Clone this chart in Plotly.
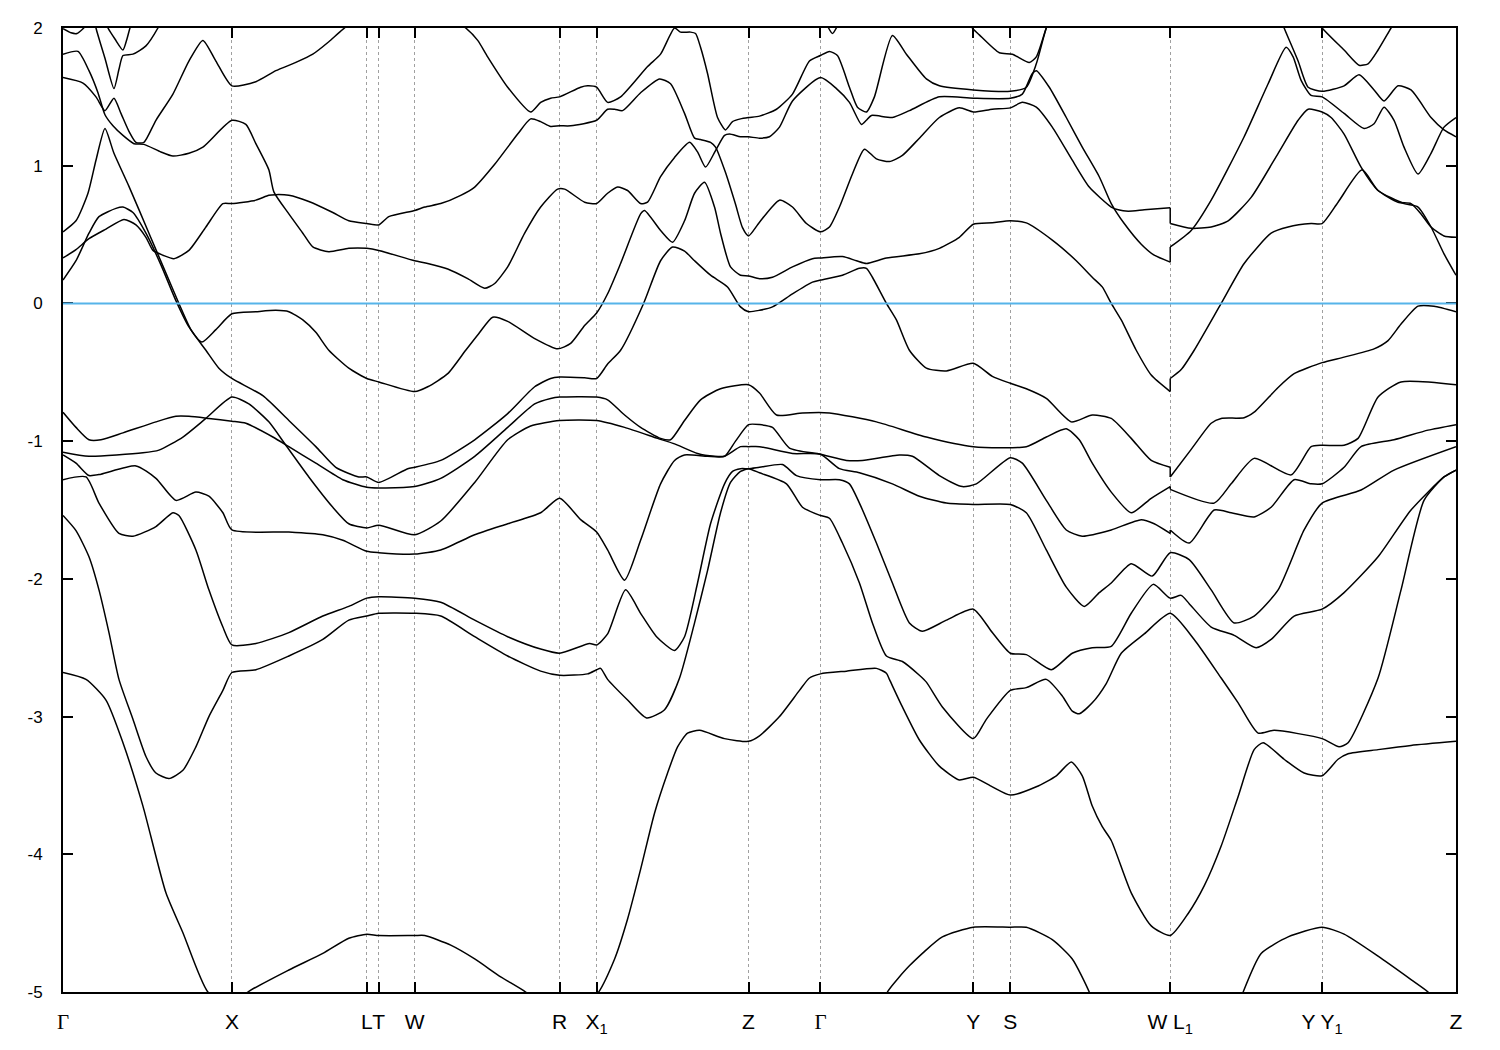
import plotly.graph_objects as go

# ---------------- k-path (arbitrary path units) ----------------
K_TICKS = [0, 169, 304, 316, 352, 497, 534, 686, 758, 911, 948, 1108, 1260, 1394]
GAMMA = "<span style='font-family:Liberation Serif'>Γ</span>"
K_LABELS = [GAMMA, "X", "L", "T", "W", "R", "X<sub>1</sub>", "Z", GAMMA, "Y", "S",
            "W L<sub>1</sub>", "Y Y<sub>1</sub>", "Z"]
E_TICKS = [-5, -4, -3, -2, -1, 0, 1, 2]

# ---------------- bands: (k, E) ----------------
BAND_01 = [(0,-2.68),(23,-2.73),(43,-2.88),(60,-3.19),(80,-3.65),(103,-4.28),(120,-4.57),(145,-5.0),(169,-5.1),(185,-5.0),
           (226,-4.84),(260,-4.72),(286,-4.61),(304,-4.58),(316,-4.59),(352,-4.59),(362,-4.59),(388,-4.66),(412,-4.76),(438,-4.89),
           (463,-5.0),(497,-5.2),(534,-5.02),(552,-4.76),(565,-4.47),(578,-4.11),(592,-3.70),(605,-3.41),(615,-3.22),(625,-3.12),
           (637,-3.10),(662,-3.16),(686,-3.18),(697,-3.14),(717,-3.0),(737,-2.81),(747,-2.72),(758,-2.69),(784,-2.67),(814,-2.65),
           (824,-2.685),(827,-2.73),(840,-2.93),(857,-3.17),(877,-3.36),(897,-3.46),(911,-3.44),(930,-3.51),(948,-3.57),(974,-3.51),
           (994,-3.43),(1009,-3.33),(1020,-3.43),(1030,-3.65),(1040,-3.80),(1049,-3.90),(1069,-4.28),(1089,-4.52),(1108,-4.59),(1126,-4.43),
           (1142,-4.23),(1159,-3.94),(1176,-3.58),(1192,-3.24),(1201,-3.19),(1222,-3.31),(1242,-3.41),(1260,-3.43),(1276,-3.31),(1286,-3.27),
           (1316,-3.24),(1349,-3.21),(1394,-3.18)]

BAND_02 = [(0,-1.54),(13,-1.65),(26,-1.84),(36,-2.08),(46,-2.39),(56,-2.73),(70,-3.02),(83,-3.29),(93,-3.41),(106,-3.45),
           (120,-3.39),(133,-3.22),(146,-3.0),(160,-2.81),(169,-2.68),(193,-2.66),(226,-2.56),(260,-2.44),(286,-2.30),(304,-2.27),
           (316,-2.25),(352,-2.25),(378,-2.27),(412,-2.42),(445,-2.56),(478,-2.67),(497,-2.70),(525,-2.69),(534,-2.66),(538,-2.65),
           (545,-2.73),(565,-2.88),(584,-3.01),(602,-2.95),(617,-2.72),(632,-2.32),(645,-1.94),(658,-1.52),(668,-1.30),(678,-1.22),
           (686,-1.20),(697,-1.23),(724,-1.31),(740,-1.48),(758,-1.54),(767,-1.56),(780,-1.74),(797,-2.03),(810,-2.32),(824,-2.56),
           (840,-2.60),(857,-2.70),(864,-2.75),(880,-2.93),(911,-3.16),(924,-3.02),(948,-2.81),(964,-2.79),(984,-2.73),(1000,-2.85),
           (1010,-2.96),(1017,-2.98),(1030,-2.90),(1044,-2.76),(1059,-2.54),(1082,-2.40),(1108,-2.25),(1132,-2.44),(1159,-2.72),(1176,-2.90),
           (1196,-3.12),(1212,-3.10),(1260,-3.16),(1277,-3.22),(1286,-3.19),(1316,-2.72),(1339,-2.08),(1362,-1.43),(1382,-1.26),(1394,-1.21)]

BAND_03 = [(0,-1.28),(23,-1.26),(36,-1.45),(56,-1.67),(70,-1.69),(93,-1.62),(110,-1.52),(116,-1.54),(133,-1.79),(146,-2.08),
           (160,-2.35),(169,-2.48),(193,-2.47),(226,-2.39),(260,-2.27),(286,-2.20),(304,-2.14),(316,-2.13),(352,-2.14),(378,-2.17),
           (412,-2.30),(445,-2.42),(478,-2.51),(497,-2.54),(527,-2.47),(534,-2.48),(545,-2.40),(563,-2.08),(578,-2.25),(594,-2.42),
           (612,-2.52),(622,-2.42),(635,-2.03),(648,-1.60),(662,-1.31),(670,-1.22),(678,-1.20),(686,-1.20),(697,-1.19),(720,-1.17),
           (734,-1.25),(758,-1.28),(777,-1.28),(787,-1.31),(797,-1.45),(814,-1.74),(830,-2.03),(847,-2.32),(860,-2.38),(884,-2.30),
           (911,-2.22),(930,-2.39),(948,-2.54),(964,-2.55),(989,-2.66),(1010,-2.54),(1030,-2.50),(1049,-2.49),(1069,-2.25),(1091,-2.04),
           (1108,-2.14),(1119,-2.12),(1127,-2.18),(1149,-2.35),(1172,-2.41),(1194,-2.50),(1209,-2.44),(1232,-2.27),(1260,-2.22),(1282,-2.10),
           (1316,-1.84),(1349,-1.50),(1382,-1.26),(1394,-1.21)]

BAND_04 = [(0,-1.10),(13,-1.16),(26,-1.25),(38,-1.24),(73,-1.18),(93,-1.27),(113,-1.43),(133,-1.37),(146,-1.40),(160,-1.52),
           (169,-1.645),(226,-1.66),(260,-1.68),(280,-1.72),(304,-1.80),(316,-1.81),(352,-1.82),(378,-1.79),(412,-1.68),(445,-1.60),
           (478,-1.52),(497,-1.415),(518,-1.57),(534,-1.66),(545,-1.79),(562,-2.01),(578,-1.72),(598,-1.31),(612,-1.14),(622,-1.10),
           (645,-1.11),(662,-1.11),(673,-1.0),(686,-0.88),(697,-0.88),(710,-0.90),(727,-1.05),(758,-1.095),(784,-1.14),(800,-1.14),
           (837,-1.10),(850,-1.11),(877,-1.25),(900,-1.33),(914,-1.31),(948,-1.12),(960,-1.16),(984,-1.43),(1004,-1.645),(1020,-1.69),
           (1049,-1.645),(1079,-1.57),(1092,-1.60),(1108,-1.67),(1108,-1.645),(1127,-1.74),(1152,-1.50),(1169,-1.52),(1192,-1.55),(1209,-1.48),
           (1232,-1.28),(1249,-1.31),(1260,-1.31),(1282,-1.19),(1299,-1.04),(1332,-0.99),(1366,-0.92),(1394,-0.88)]

BAND_05 = [(0,-1.08),(26,-1.11),(80,-1.085),(96,-1.065),(120,-0.97),(143,-0.835),(169,-0.68),(186,-0.73),(206,-0.86),(223,-1.03),
           (246,-1.26),(270,-1.48),(286,-1.60),(304,-1.63),(316,-1.61),(352,-1.68),(378,-1.58),(412,-1.30),(445,-0.99),(468,-0.89),
           (497,-0.85),(534,-0.85),(562,-0.90),(595,-0.98),(612,-1.02),(635,-1.09),(652,-1.11),(662,-1.11),(678,-1.04),(686,-1.04),
           (697,-1.04),(730,-1.09),(758,-1.095),(777,-1.20),(797,-1.23),(830,-1.31),(857,-1.40),(884,-1.45),(911,-1.46),(948,-1.46),
           (964,-1.52),(984,-1.79),(1004,-2.06),(1022,-2.20),(1037,-2.10),(1049,-2.03),(1069,-1.89),(1090,-1.98),(1108,-1.81),(1127,-1.86),
           (1149,-2.08),(1172,-2.32),(1192,-2.27),(1216,-2.08),(1242,-1.645),(1260,-1.45),(1299,-1.355),(1332,-1.21),(1394,-1.04)]

BAND_06 = [(0,-0.79),(13,-0.90),(26,-0.99),(38,-0.99),(60,-0.94),(93,-0.86),(113,-0.82),(126,-0.82),(146,-0.835),(169,-0.855),
           (183,-0.87),(210,-0.97),(226,-1.04),(253,-1.16),(280,-1.28),(304,-1.335),(316,-1.34),(352,-1.33),(378,-1.27),(412,-1.11),
           (445,-0.90),(472,-0.73),(488,-0.69),(497,-0.68),(534,-0.68),(545,-0.70),(562,-0.81),(578,-0.90),(598,-0.98),(608,-0.99),
           (622,-0.85),(638,-0.70),(658,-0.62),(686,-0.59),(697,-0.65),(714,-0.81),(740,-0.795),(767,-0.795),(814,-0.86),(864,-0.97),
           (911,-1.04),(964,-1.04),(984,-0.97),(1004,-0.91),(1017,-0.99),(1030,-1.16),(1049,-1.37),(1069,-1.52),(1089,-1.415),(1108,-1.33),
           (1108,-1.35),(1152,-1.45),(1169,-1.31),(1192,-1.125),(1229,-1.245),(1249,-1.04),(1260,-1.03),(1282,-1.03),(1296,-0.98),(1316,-0.68),
           (1339,-0.57),(1394,-0.59)]

BAND_07 = [(0,0.52),(13,0.60),(25,0.80),(33,1.04),(42,1.27),(51,1.09),(66,0.85),(86,0.51),(103,0.22),(116,0.0),
           (128,-0.19),(143,-0.34),(156,-0.47),(169,-0.545),(200,-0.67),(226,-0.85),(253,-1.04),(273,-1.19),(296,-1.26),(304,-1.26),
           (316,-1.30),(345,-1.20),(352,-1.19),(378,-1.14),(412,-0.99),(445,-0.80),(472,-0.605),(488,-0.545),(497,-0.535),(522,-0.54),
           (534,-0.545),(545,-0.44),(558,-0.34),(581,0.0),(598,0.31),(610,0.41),(622,0.38),(632,0.31),(648,0.205),(665,0.12),
           (678,-0.025),(686,-0.06),(697,-0.05),(710,-0.025),(730,0.07),(750,0.155),(758,0.17),(780,0.205),(797,0.255),(804,0.255),
           (810,0.19),(824,0.0),(834,-0.12),(847,-0.34),(864,-0.47),(884,-0.49),(911,-0.435),(930,-0.53),(948,-0.58),(964,-0.62),
           (984,-0.69),(1009,-0.86),(1030,-0.81),(1049,-0.835),(1069,-0.98),(1089,-1.14),(1108,-1.19),(1108,-1.26),(1129,-1.06),(1149,-0.87),
           (1159,-0.835),(1182,-0.83),(1192,-0.79),(1216,-0.61),(1232,-0.51),(1260,-0.43),(1282,-0.39),(1312,-0.33),(1326,-0.27),(1339,-0.15),
           (1356,-0.02),(1372,-0.02),(1394,-0.06)]

BAND_08 = [(0,0.17),(13,0.31),(26,0.51),(36,0.63),(53,0.69),(60,0.70),(70,0.66),(83,0.51),(98,0.28),(113,0.02),
           (126,-0.17),(139,-0.28),(153,-0.19),(169,-0.075),(193,-0.06),(213,-0.05),(226,-0.06),(240,-0.12),(253,-0.21),(266,-0.34),
           (286,-0.47),(304,-0.545),(316,-0.57),(352,-0.64),(365,-0.605),(385,-0.51),(403,-0.34),(416,-0.22),(430,-0.10),(445,-0.13),
           (472,-0.255),(495,-0.33),(508,-0.29),(522,-0.16),(534,-0.07),(545,0.07),(558,0.29),(578,0.65),(582,0.675),(598,0.53),
           (610,0.445),(622,0.60),(632,0.80),(642,0.88),(652,0.70),(658,0.51),(668,0.265),(678,0.205),(686,0.20),(697,0.18),
           (710,0.19),(730,0.265),(750,0.325),(758,0.33),(780,0.34),(794,0.31),(804,0.29),(824,0.33),(857,0.36),(877,0.40),
           (897,0.48),(911,0.575),(930,0.585),(948,0.60),(964,0.585),(990,0.46),(1014,0.31),(1030,0.19),(1040,0.12),(1049,0.0),
           (1059,-0.12),(1074,-0.34),(1089,-0.52),(1108,-0.64),(1108,-0.545),(1119,-0.48),(1132,-0.34),(1159,0.0),(1182,0.29),(1209,0.51),
           (1226,0.555),(1249,0.58),(1260,0.58),(1276,0.735),(1300,0.97),(1316,0.82),(1342,0.725),(1356,0.70),(1369,0.555),(1382,0.36),
           (1394,0.205)]

BAND_09 = [(0,0.33),(13,0.39),(26,0.47),(43,0.54),(61,0.61),(73,0.57),(83,0.48),(90,0.385),(100,0.35),(111,0.325),
           (126,0.385),(143,0.555),(160,0.725),(169,0.725),(193,0.75),(206,0.785),(213,0.79),(226,0.785),(246,0.74),(270,0.66),
           (286,0.60),(304,0.58),(316,0.57),(326,0.63),(352,0.675),(362,0.70),(378,0.725),(398,0.785),(412,0.845),(432,1.01),
           (455,1.23),(468,1.34),(478,1.32),(488,1.285),(497,1.29),(508,1.29),(534,1.33),(545,1.41),(552,1.41),(560,1.40),
           (578,1.53),(597,1.63),(608,1.595),(622,1.38),(632,1.20),(638,1.19),(648,1.17),(653,1.135),(663,0.95),(673,0.72),
           (680,0.55),(686,0.49),(697,0.59),(717,0.75),(730,0.70),(744,0.58),(758,0.52),(767,0.555),(777,0.70),(790,0.94),
           (802,1.12),(814,1.05),(827,1.03),(840,1.075),(857,1.20),(877,1.35),(897,1.42),(911,1.39),(930,1.41),(948,1.42),
           (960,1.46),(974,1.425),(990,1.28),(1010,1.04),(1027,0.845),(1049,0.70),(1056,0.68),(1066,0.67),(1082,0.68),(1108,0.695),
           (1108,0.58),(1129,0.545),(1149,0.555),(1166,0.60),(1189,0.77),(1216,1.09),(1236,1.33),(1246,1.41),(1260,1.39),(1269,1.35),
           (1282,1.23),(1299,0.99),(1316,0.82),(1336,0.735),(1349,0.725),(1359,0.65),(1369,0.555),(1382,0.49),(1394,0.48)]

BAND_10 = [(0,1.81),(15,1.83),(26,1.69),(35,1.53),(42,1.37),(50,1.29),(60,1.22),(71,1.16),(81,1.155),(98,1.10),
           (110,1.07),(126,1.09),(140,1.135),(169,1.33),(183,1.30),(193,1.16),(206,0.97),(211,0.81),(226,0.65),(240,0.51),
           (250,0.41),(266,0.375),(286,0.40),(304,0.40),(316,0.385),(352,0.31),(365,0.29),(385,0.25),(405,0.18),(422,0.11),
           (432,0.145),(445,0.265),(462,0.51),(478,0.70),(495,0.83),(502,0.83),(522,0.735),(534,0.725),(545,0.80),(555,0.845),
           (565,0.82),(578,0.725),(585,0.735),(598,0.92),(612,1.06),(627,1.17),(635,1.10),(643,0.99),(653,1.11),(662,1.22),
           (667,1.23),(678,1.21),(686,1.21),(697,1.20),(707,1.21),(717,1.28),(730,1.47),(758,1.64),(774,1.56),(787,1.46),
           (799,1.30),(804,1.33),(809,1.365),(830,1.35),(847,1.40),(877,1.50),(911,1.49),(948,1.49),(960,1.52),(970,1.67),
           (974,1.69),(987,1.57),(1004,1.35),(1020,1.135),(1037,0.92),(1049,0.725),(1062,0.58),(1079,0.43),(1092,0.35),(1108,0.30),
           (1108,0.41),(1129,0.53),(1149,0.75),(1182,1.21),(1206,1.595),(1224,1.86),(1231,1.79),(1239,1.62),(1249,1.51),(1260,1.50),
           (1282,1.38),(1302,1.27),(1312,1.305),(1322,1.425),(1332,1.33),(1342,1.135),(1356,0.94),(1369,1.09),(1382,1.28),(1394,1.35)]

BAND_11 = [(0,1.64),(20,1.60),(33,1.50),(42,1.40),(51,1.49),(58,1.38),(66,1.25),(73,1.17),(81,1.17),(93,1.33),
           (110,1.52),(126,1.76),(140,1.91),(153,1.76),(169,1.58),(193,1.61),(213,1.69),(233,1.75),(250,1.81),(266,1.90),
           (280,1.99),(338,2.3),(403,2.0),(415,1.91),(425,1.79),(445,1.57),(468,1.39),(478,1.46),(488,1.49),(497,1.50),
           (518,1.57),(525,1.58),(534,1.57),(545,1.46),(558,1.50),(585,1.72),(598,1.81),(612,2.0),(618,1.97),(628,1.97),
           (633,1.96),(638,1.86),(645,1.67),(655,1.35),(663,1.26),(670,1.32),(678,1.34),(686,1.35),(697,1.36),(714,1.41),
           (730,1.52),(747,1.76),(758,1.80),(767,1.83),(775,1.80),(787,1.57),(795,1.425),(804,1.39),(812,1.50),(830,1.945),
           (844,1.81),(864,1.63),(877,1.58),(911,1.55),(948,1.54),(964,1.57),(974,1.74),(984,2.0),(998,2.25),(1138,2.6),
           (1214,2.15),(1222,2.0),(1236,1.76),(1246,1.57),(1260,1.54),(1282,1.58),(1297,1.66),(1312,1.55),(1322,1.47),(1336,1.58),
           (1349,1.55),(1369,1.35),(1382,1.26),(1394,1.21)]

BAND_12 = [(26,2.25),(33,2.0),(42,1.78),(51,1.56),(56,1.70),(60,1.80),(70,1.81),(83,1.87),(95,2.0),(108,2.2)]
BAND_13 = [(38,2.12),(45,2.0),(52,1.92),(60,1.84),(64,1.92),(67,2.0),(73,2.12)]
BAND_14 = [(0,1.995),(8,1.965),(14,1.96),(20,1.995),(28,2.06)]
BAND_15 = [(764,2.03),(770,1.96),(776,2.03)]
BAND_16 = [(903,2.1),(910,2.0),(917,1.95),(937,1.82),(950,1.81),(967,1.75),(974,1.79),(984,2.0),(993,2.15)]
BAND_17 = [(1253,2.08),(1260,2.0),(1282,1.84),(1297,1.73),(1306,1.74),(1316,1.84),(1329,2.0),(1336,2.08)]
BAND_18 = [(818,-5.15),(825,-5.0),(847,-4.81),(880,-4.60),(911,-4.53),(948,-4.53),(964,-4.53),(990,-4.62),(1010,-4.76),(1027,-5.0),(1034,-5.15)]
BAND_19 = [(1174,-5.15),(1181,-5.0),(1199,-4.72),(1226,-4.60),(1260,-4.53),(1282,-4.58),(1316,-4.74),(1349,-4.91),(1366,-5.0),(1378,-5.1)]

BANDS = [BAND_01, BAND_02, BAND_03, BAND_04, BAND_05, BAND_06, BAND_07, BAND_08, BAND_09, BAND_10,
         BAND_11, BAND_12, BAND_13, BAND_14, BAND_15, BAND_16, BAND_17, BAND_18, BAND_19]

FERMI_LEVEL = 0.0


def split_at_jumps(band):
    """Split a band where two consecutive points share the same k (a path discontinuity)."""
    segments, jumps = [[band[0]]], []
    for prev, cur in zip(band, band[1:]):
        if cur[0] == prev[0]:
            jumps.append([prev, cur])
            segments.append([cur])
        else:
            segments[-1].append(cur)
    return segments, jumps


fig = go.Figure()
for band in BANDS:
    segments, jumps = split_at_jumps(band)
    for seg in segments:
        fig.add_trace(go.Scatter(x=[p[0] for p in seg], y=[p[1] for p in seg], mode="lines",
                                 line=dict(color="black", width=1.5, shape="spline", smoothing=0.6),
                                 hoverinfo="skip", showlegend=False))
    for jp in jumps:
        fig.add_trace(go.Scatter(x=[p[0] for p in jp], y=[p[1] for p in jp], mode="lines",
                                 line=dict(color="black", width=1.5),
                                 hoverinfo="skip", showlegend=False))

fig.add_hline(y=FERMI_LEVEL, line=dict(color="#56b4e9", width=2), layer="above")

# page body has an 8px margin; figure sized so the plot frame lands where the reference has it
fig.update_layout(
    width=1484, height=1034,
    margin=dict(l=54.5, r=35.5, t=19.5, b=49.5, autoexpand=False),
    plot_bgcolor="white", paper_bgcolor="white",
    font=dict(family="Liberation Sans, Arial, sans-serif", color="black"),
    showlegend=False,
)
fig.update_xaxes(
    range=[K_TICKS[0], K_TICKS[-1]],
    tickmode="array", tickvals=K_TICKS, ticktext=K_LABELS, tickangle=0,
    tickfont=dict(size=21, family="Liberation Sans, Arial, sans-serif", color="black"),
    ticks="inside", ticklen=10, tickwidth=1.5, tickcolor="black",
    showline=True, linecolor="black", linewidth=2, mirror="ticks",
    showgrid=True, gridcolor="#a0a0a0", gridwidth=1, griddash="3px,3px",
    zeroline=False, ticklabelstandoff=10, automargin=False,
)
fig.update_yaxes(
    range=[-5, 2],
    tickmode="array", tickvals=E_TICKS, ticktext=[str(v) for v in E_TICKS],
    tickfont=dict(size=17, family="Liberation Sans, Arial, sans-serif", color="black"),
    ticks="inside", ticklen=10, tickwidth=1.5, tickcolor="black",
    showline=True, linecolor="black", linewidth=2, mirror="ticks",
    showgrid=False, zeroline=False, ticklabelstandoff=15, automargin=False,
)

fig.write_html("out.html")
